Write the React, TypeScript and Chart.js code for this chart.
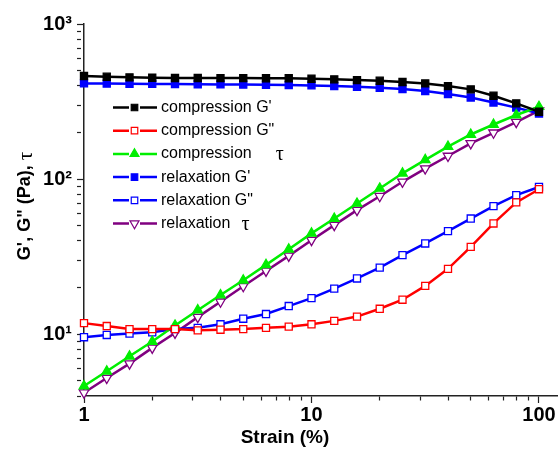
import React, { useEffect, useRef } from 'react';
import { Chart, registerables } from 'chart.js';

Chart.register(...registerables);

// ---- data ----
const strain = [1, 1.259, 1.585, 1.995, 2.512, 3.162, 3.981, 5.012, 6.31, 7.943, 10, 12.59, 15.85, 19.95, 25.12, 31.62, 39.81, 50.12, 63.1, 79.43, 100];
const compressionGp = [462, 457, 453, 450, 449, 449, 448, 448, 447, 447, 444, 440, 435, 431, 423, 414, 398, 379, 345, 308, 272];
const compressionGpp = [11.8, 11.3, 10.8, 10.8, 10.8, 10.6, 10.7, 10.8, 11.0, 11.2, 11.6, 12.2, 13.0, 14.6, 16.7, 20.5, 26.4, 36.6, 51.8, 70.8, 86.1];
const compressionTau = [4.64, 5.77, 7.21, 8.97, 11.4, 14.3, 17.9, 22.3, 28.0, 35.3, 44.7, 55.7, 69.7, 87.1, 109, 133, 162, 194, 225, 259, 293];
const relaxationGp = [414, 413, 412, 411, 410, 409, 408, 407, 406, 404, 402, 398, 394, 388, 381, 370, 354, 336, 312, 289, 265];
const relaxationGpp = [9.57, 9.9, 10.1, 10.3, 10.8, 11.0, 11.6, 12.6, 13.5, 15.2, 17.1, 19.7, 22.9, 26.9, 32.4, 38.5, 46.2, 55.7, 67, 78.8, 89];
const relaxationTau = [4.2, 5.22, 6.47, 8.17, 10.2, 12.9, 16.2, 20.4, 25.6, 32.0, 40.4, 50.5, 63.1, 77.6, 96.1, 117, 141, 170, 199, 233, 276];

const seriesLabels = ["compression G'", 'compression G"', 'compression τ', "relaxation G'", 'relaxation G"', 'relaxation τ'];
const xDecades = [1, 10, 100];
const xTickLabels = ['1', '10', '100'];
const yDecades = [10, 100, 1000];
const yTickLabels = ['10¹', '10²', '10³'];
const xTitle = 'Strain (%)';
const yTitleMain = 'G\', G" (Pa), ';
const yTitleTau = 'τ';

const X_MIN = 1, X_MAX = 120, Y_MIN = 4, Y_MAX = 1000;

const SANS = '"Liberation Sans", Arial, sans-serif';
const SERIF = '"Liberation Serif", "DejaVu Serif", serif';

function logTicks(min: number, max: number) {
  const t: { value: number }[] = [];
  for (let d = Math.floor(Math.log10(min)); d <= Math.ceil(Math.log10(max)); d++) {
    for (let m = 1; m <= 9; m++) {
      const v = m * Math.pow(10, d);
      if (v >= min - 1e-9 && v <= max + 1e-9) t.push({ value: v });
    }
  }
  return t;
}
function isDecade(v: number) {
  const l = Math.log10(v);
  return Math.abs(l - Math.round(l)) < 1e-6;
}

function drawMarker(ctx: CanvasRenderingContext2D, style: string, rot: number, x: number, y: number, r: number, fill: string, stroke: string, bw: number) {
  ctx.save();
  ctx.fillStyle = fill;
  ctx.strokeStyle = stroke;
  ctx.lineWidth = bw;
  ctx.beginPath();
  if (style === 'rect') {
    const s = Math.SQRT1_2 * r;
    ctx.rect(x - s, y - s, 2 * s, 2 * s);
  } else {
    let a = (rot * Math.PI) / 180;
    ctx.moveTo(x + Math.sin(a) * r, y - Math.cos(a) * r);
    a += (2 * Math.PI) / 3;
    ctx.lineTo(x + Math.sin(a) * r, y - Math.cos(a) * r);
    a += (2 * Math.PI) / 3;
    ctx.lineTo(x + Math.sin(a) * r, y - Math.cos(a) * r);
    ctx.closePath();
  }
  ctx.fill();
  ctx.stroke();
  ctx.restore();
}

const legendPlugin = {
  id: 'insetLegend',
  afterDatasetsDraw(chart: any) {
    const ctx: CanvasRenderingContext2D = chart.ctx;
    const y0 = 107.5, dy = 23.2;
    chart.data.datasets.forEach((ds: any, i: number) => {
      const y = y0 + i * dy;
      ctx.save();
      ctx.strokeStyle = ds.borderColor;
      ctx.lineWidth = 2.5;
      ctx.beginPath();
      ctx.moveTo(113, y);
      ctx.lineTo(129, y);
      ctx.moveTo(140, y);
      ctx.lineTo(157, y);
      ctx.stroke();
      ctx.restore();
      drawMarker(ctx, ds.pointStyle, ds.pointRotation || 0, 134.5, y, ds.pointStyle === 'rect' ? 4.6 : 5.2, ds.pointBackgroundColor, ds.pointBorderColor, 1.2);
      ctx.save();
      ctx.fillStyle = '#000';
      ctx.textBaseline = 'middle';
      ctx.textAlign = 'left';
      ctx.font = `16px ${SANS}`;
      const label: string = ds.label;
      if (label.endsWith('τ')) {
        const main = label.slice(0, -1).trimEnd();
        ctx.fillText(main, 161, y);
        const w = ctx.measureText(main).width;
        ctx.font = `20px ${SERIF}`;
        ctx.fillText('τ', 161 + w + (i === 2 ? 24 : 11), y + 1);
      } else {
        ctx.fillText(label, 161, y);
      }
      ctx.restore();
    });
  },
};

const titlePlugin = {
  id: 'axisTitles',
  afterDraw(chart: any) {
    const ctx: CanvasRenderingContext2D = chart.ctx;
    ctx.save();
    ctx.fillStyle = '#000';
    ctx.textBaseline = 'middle';
    ctx.textAlign = 'center';
    ctx.font = `bold 19px ${SANS}`;
    ctx.fillText(xTitle, 285, 438);
    ctx.restore();

    ctx.save();
    ctx.translate(25, 206);
    ctx.rotate(-Math.PI / 2);
    ctx.fillStyle = '#000';
    ctx.textBaseline = 'middle';
    ctx.textAlign = 'left';
    ctx.font = `bold 18px ${SANS}`;
    const w1 = ctx.measureText(yTitleMain).width;
    ctx.font = `21px ${SERIF}`;
    const w2 = ctx.measureText(yTitleTau).width;
    const start = -(w1 + w2) / 2;
    ctx.font = `bold 18px ${SANS}`;
    ctx.fillText(yTitleMain, start, 0);
    ctx.font = `21px ${SERIF}`;
    ctx.fillText(yTitleTau, start + w1, 1);
    ctx.restore();
  },
};

export default function App() {
  const ref = useRef<HTMLCanvasElement>(null);
  useEffect(() => {
    document.body.style.margin = '0';
    const canvas = ref.current;
    if (!canvas) return;

    const mk = (label: string, values: number[], color: string, fill: string, style: string, rot = 0, radius = 5) => ({
      label,
      data: strain.map((x, i) => ({ x, y: values[i] })),
      borderColor: color,
      backgroundColor: fill,
      pointBackgroundColor: fill,
      pointBorderColor: color,
      pointStyle: style,
      pointRotation: rot,
      pointRadius: radius,
      pointHoverRadius: radius,
      pointBorderWidth: 1.3,
      borderWidth: 2.5,
      tension: 0,
      fill: false,
      clip: false as any,
    });

    const datasets = [
      mk(seriesLabels[0], compressionGp, '#000000', '#000000', 'rect'),
      mk(seriesLabels[1], compressionGpp, '#ff0000', '#ffffff', 'rect'),
      mk(seriesLabels[2], compressionTau, '#00ee00', '#00ee00', 'triangle', 0, 5.5),
      mk(seriesLabels[3], relaxationGp, '#0000ff', '#0000ff', 'rect'),
      mk(seriesLabels[4], relaxationGpp, '#0000ff', '#ffffff', 'rect'),
      mk(seriesLabels[5], relaxationTau, '#800080', '#ffffff', 'triangle', 180, 5.5),
    ];

    const tickFont = { family: SANS, weight: 'bold' as const, size: 20 };
    const axisColor = '#222222';

    const chart = new Chart(canvas, {
      type: 'line',
      data: { datasets },
      options: {
        animation: false,
        responsive: false,
        maintainAspectRatio: false,
        layout: { autoPadding: false, padding: { top: 24, right: 2, left: 0, bottom: 0 } },
        plugins: {
          legend: { display: false },
          tooltip: { enabled: false },
          title: { display: false },
        },
        scales: {
          x: {
            type: 'logarithmic',
            min: X_MIN,
            max: X_MAX,
            afterBuildTicks: (scale: any) => {
              scale.ticks = logTicks(X_MIN, X_MAX);
            },
            afterFit: (scale: any) => {
              scale.height = 54;
              scale.paddingLeft = 0;
              scale.paddingRight = 0;
            },
            border: { display: true, color: axisColor, width: 1.5 },
            grid: {
              drawOnChartArea: false,
              drawTicks: true,
              tickLength: 7,
              tickColor: axisColor,
              tickWidth: 1.2,
              tickBorderDash: (c: any) => (c.tick && isDecade(c.tick.value) ? [] : [4, 30]),
            },
            ticks: {
              autoSkip: false,
              maxRotation: 0,
              padding: 0,
              color: '#000',
              font: tickFont,
              callback: (v: any) => {
                const idx = xDecades.findIndex((d) => Math.abs(d - Number(v)) < 1e-9);
                return idx >= 0 ? xTickLabels[idx] : '';
              },
            },
          },
          y: {
            type: 'logarithmic',
            min: Y_MIN,
            max: Y_MAX,
            afterBuildTicks: (scale: any) => {
              scale.ticks = logTicks(Y_MIN, Y_MAX);
            },
            afterFit: (scale: any) => {
              scale.width = 84;
              scale.paddingTop = 0;
              scale.paddingBottom = 0;
            },
            border: { display: true, color: axisColor, width: 1.5 },
            grid: {
              drawOnChartArea: false,
              drawTicks: true,
              tickLength: 7,
              tickColor: axisColor,
              tickWidth: 1.2,
              tickBorderDash: (c: any) => (c.tick && isDecade(c.tick.value) ? [] : [4, 30]),
            },
            ticks: {
              autoSkip: false,
              padding: 5,
              color: '#000',
              font: tickFont,
              callback: (v: any) => {
                const idx = yDecades.findIndex((d) => Math.abs(d - Number(v)) < 1e-6);
                return idx >= 0 ? yTickLabels[idx] : '';
              },
            },
          },
        },
      },
      plugins: [legendPlugin, titlePlugin],
    });
    return () => chart.destroy();
  }, []);

  return (
    <div style={{ width: 559, height: 450, background: '#fff' }}>
      <canvas ref={ref} width={559} height={450} style={{ display: 'block', width: 559, height: 450 }} />
    </div>
  );
}
